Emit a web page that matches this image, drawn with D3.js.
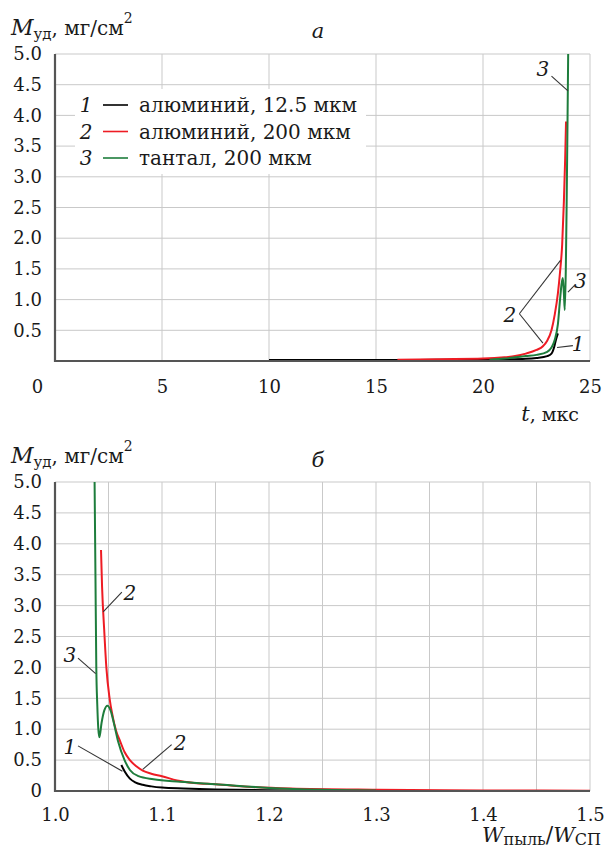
<!DOCTYPE html>
<html><head><meta charset="utf-8">
<script src="https://cdn.jsdelivr.net/npm/d3@7"></script>
<style>
body{margin:0;background:#fff;}
svg text{font-family:"DejaVu Serif";}
</style></head>
<body><svg id="c" width="604" height="848"></svg>
<script>
// ---------- data ----------
const seriesNames = ["алюминий, 12.5 мкм", "алюминий, 200 мкм", "тантал, 200 мкм"];
const seriesIds = ["1", "2", "3"];
const seriesColors = ["#000000", "#ee1c24", "#1e7d3c"];

// Panel a: M vs t (мкс)
const a1_t = [10, 12, 14, 16, 18, 20, 21, 22, 22.5, 23, 23.2, 23.32, 23.42, 23.5];
const a1_v = [0.015, 0.015, 0.015, 0.015, 0.02, 0.02, 0.025, 0.035, 0.05, 0.08, 0.12, 0.22, 0.36, 0.45];
const a2_t = [16, 18, 20, 21, 21.5, 22, 22.5, 22.8, 23.0, 23.2, 23.35, 23.5, 23.6, 23.7, 23.78, 23.84, 23.88];
const a2_v = [0.02, 0.03, 0.04, 0.06, 0.08, 0.12, 0.18, 0.24, 0.33, 0.5, 0.75, 1.1, 1.45, 1.9, 2.6, 3.3, 3.9];
const a3_t = [20.3, 21, 21.5, 22, 22.5, 23, 23.2, 23.35, 23.5, 23.6, 23.67, 23.73, 23.78, 23.82, 23.87, 23.91, 23.95, 23.98];
const a3_v = [0.02, 0.04, 0.06, 0.08, 0.1, 0.15, 0.22, 0.34, 0.6, 1.0, 1.25, 1.35, 1.1, 0.83, 1.5, 2.6, 3.9, 5.0];

// Panel b: M vs W_пыль/W_СП
const b1_w = [1.062, 1.065, 1.07, 1.075, 1.082, 1.09, 1.1, 1.12, 1.15, 1.2, 1.25, 1.3];
const b1_v = [0.42, 0.32, 0.2, 0.14, 0.1, 0.075, 0.055, 0.04, 0.025, 0.012, 0.006, 0.003];
const b2_w = [1.043, 1.044, 1.046, 1.048, 1.051, 1.054, 1.057, 1.061, 1.065, 1.07, 1.076, 1.082, 1.09, 1.1, 1.114, 1.13, 1.15, 1.18, 1.22, 1.3, 1.4, 1.5];
const b2_v = [3.9, 3.3, 2.6, 2.0, 1.5, 1.2, 0.98, 0.8, 0.63, 0.5, 0.4, 0.33, 0.28, 0.24, 0.17, 0.13, 0.11, 0.07, 0.04, 0.02, 0.01, 0.005];
const b3_w = [1.037, 1.0378, 1.0386, 1.0395, 1.0405, 1.0415, 1.0435, 1.046, 1.049, 1.052, 1.055, 1.059, 1.065, 1.07, 1.078, 1.092, 1.117, 1.15, 1.2, 1.25, 1.3];
const b3_v = [5.0, 3.5, 2.0, 1.4, 1.0, 0.87, 1.1, 1.3, 1.38, 1.3, 1.1, 0.8, 0.5, 0.34, 0.24, 0.19, 0.15, 0.11, 0.05, 0.02, 0.01];

const aXTicks = [0, 5, 10, 15, 20, 25];
const aYTicks = [0.5, 1.0, 1.5, 2.0, 2.5, 3.0, 3.5, 4.0, 4.5, 5.0];
const bXTicks = [1.0, 1.1, 1.2, 1.3, 1.4, 1.5];
const bXGrid = [1.05, 1.1, 1.15, 1.2, 1.25, 1.3, 1.35, 1.4, 1.45, 1.5];
const bYTicks = [0, 0.5, 1.0, 1.5, 2.0, 2.5, 3.0, 3.5, 4.0, 4.5, 5.0];

// annotations: [label, labelX, labelY, [[x1,y1],[x2,y2]...]] in data units
const aNotes = [
  ["3", 22.8, 4.76, [[23.2, 4.64], [23.97, 4.4]]],
  ["2", 21.25, 0.75, [[21.7, 0.77], [23.62, 1.64]], [[21.7, 0.77], [22.8, 0.29]]],
  ["3", 24.55, 1.3, [[24.3, 1.24], [23.97, 1.12]]],
  ["1", 24.45, 0.28, [[24.2, 0.25], [23.46, 0.22]]]
];
const bNotes = [
  ["2", 1.07, 3.2, [[1.0625, 3.22], [1.045, 2.9]]],
  ["3", 1.014, 2.2, [[1.0215, 2.15], [1.038, 1.9]]],
  ["1", 1.014, 0.72, [[1.0215, 0.73], [1.063, 0.32]]],
  ["2", 1.117, 0.78, [[1.109, 0.75], [1.082, 0.35]]]
];

// ---------- drawing ----------
const svg = d3.select("#c");
const FS = 18;
const TXT = "#1a1a1a";

function panel(opts) {
  const {x, y, xTicks, xGrid, yTicks, series, notes, idx} = opts;
  const g = svg.append("g");
  const [x0, x1] = x.range();
  const [y0, y1] = y.range();
  const clipId = "clip" + idx;
  g.append("clipPath").attr("id", clipId).append("rect")
    .attr("x", x0).attr("y", y1 - 1).attr("width", x1 - x0 + 2).attr("height", y0 - y1 + 2);

  // grid
  g.append("g").selectAll("line").data(xGrid).join("line")
    .attr("x1", d => x(d)).attr("x2", d => x(d)).attr("y1", y0).attr("y2", y1)
    .attr("stroke", "#c9c9c9").attr("stroke-width", 1);
  g.append("g").selectAll("line").data(yTicks.filter(d => d > 0)).join("line")
    .attr("y1", d => y(d)).attr("y2", d => y(d)).attr("x1", x0).attr("x2", x1)
    .attr("stroke", "#c9c9c9").attr("stroke-width", 1);

  // legend (panel a only)
  if (opts.legend) {
    const L = g.append("g");
    L.append("rect").attr("x", 75).attr("y", 89).attr("width", 291).attr("height", 85).attr("fill", "#fff");
    seriesNames.forEach((nm, i) => {
      const yy = 105 + i * 26.5;
      L.append("text").attr("x", 86).attr("y", yy).attr("dy", "0.35em").attr("text-anchor", "middle")
        .attr("font-style", "italic").attr("font-size", 20).attr("fill", TXT).text(seriesIds[i]);
      L.append("line").attr("x1", 103).attr("x2", 128).attr("y1", yy).attr("y2", yy)
        .attr("stroke", seriesColors[i]).attr("stroke-width", 1.6);
      L.append("text").attr("x", 139).attr("y", yy).attr("dy", "0.35em")
        .attr("font-size", 20).attr("fill", TXT).text(nm);
    });
  }

  // curves
  const line = d3.line().x(d => x(d[0])).y(d => y(d[1])).curve(d3.curveMonotoneX);
  const cg = g.append("g").attr("clip-path", `url(#${clipId})`);
  series.forEach((s, i) => {
    const pts = s[0].map((v, k) => [v, s[1][k]]);
    cg.append("path").attr("d", line(pts)).attr("fill", "none")
      .attr("stroke", seriesColors[i]).attr("stroke-width", 2).attr("stroke-linejoin", "round");
  });

  // axes lines
  g.append("line").attr("x1", x0).attr("x2", x0).attr("y1", y0 + 1).attr("y2", y1)
    .attr("stroke", "#555").attr("stroke-width", 2.2);
  g.append("line").attr("x1", x0 - 1).attr("x2", x1).attr("y1", y0).attr("y2", y0)
    .attr("stroke", "#555").attr("stroke-width", 2.2);

  // tick labels via d3 axes
  const ax = g.append("g").attr("transform", `translate(0,${y0})`)
    .call(d3.axisBottom(x).tickValues(xTicks).tickSize(0).tickPadding(opts.xPad).tickFormat(opts.xFmt));
  ax.attr("font-family", null).attr("font-size", FS);
  ax.select(".domain").remove();
  ax.selectAll("text").attr("fill", TXT);
  if (opts.shiftZero) ax.selectAll(".tick").filter(d => d === 0).select("text").attr("dx", -18);

  const ay = g.append("g").attr("transform", `translate(${x0},0)`)
    .call(d3.axisLeft(y).tickValues(yTicks).tickSize(0).tickPadding(13).tickFormat(d => d === 0 ? "0" : d3.format(".1f")(d)));
  ay.attr("font-family", null).attr("font-size", FS);
  ay.select(".domain").remove();
  ay.selectAll("text").attr("fill", TXT);

  // annotations
  notes.forEach(n => {
    g.append("text").attr("x", x(n[1])).attr("y", y(n[2])).attr("dy", "0.35em").attr("text-anchor", "middle")
      .attr("font-style", "italic").attr("font-size", 20).attr("fill", TXT).text(n[0]);
    n.slice(3).forEach(seg => {
      g.append("path").attr("d", d3.line()(seg.map(p => [x(p[0]), y(p[1])])))
        .attr("fill", "none").attr("stroke", "#333").attr("stroke-width", 1.1);
    });
  });
  return g;
}

function yTitle(yb) {
  const t = svg.append("text").attr("x", 11).attr("y", yb).attr("font-size", 20).attr("fill", TXT);
  t.append("tspan").attr("font-style", "italic").attr("font-size", 22).text("M");
  t.append("tspan").attr("font-size", 15).attr("dy", 4).text("уд");
  t.append("tspan").attr("dy", -4).text(", мг/см");
  t.append("tspan").attr("font-size", 14).attr("dy", -12).text("2");
}

// Panel a
const xA = d3.scaleLinear().domain([0, 25]).range([55, 590]);
const yA = d3.scaleLinear().domain([0, 5]).range([361, 54]);
panel({x: xA, y: yA, xTicks: aXTicks, xGrid: [5, 10, 15, 20, 25], yTicks: aYTicks,
  series: [[a1_t, a1_v], [a2_t, a2_v], [a3_t, a3_v]], notes: aNotes, idx: 0,
  legend: true, shiftZero: true, xFmt: d3.format("d"), xPad: 19});
yTitle(35);
svg.append("text").attr("x", 318).attr("y", 38).attr("text-anchor", "middle")
  .attr("font-style", "italic").attr("font-size", 21).attr("fill", TXT).text("а");
const tl = svg.append("text").attr("x", 579).attr("y", 421).attr("text-anchor", "end").attr("font-size", 19).attr("fill", TXT);
tl.append("tspan").attr("font-style", "italic").attr("font-size", 21).text("t");
tl.append("tspan").text(", мкс");

// Panel b
const xB = d3.scaleLinear().domain([1.0, 1.5]).range([55, 590]);
const yB = d3.scaleLinear().domain([0, 5]).range([791, 482]);
panel({x: xB, y: yB, xTicks: bXTicks, xGrid: bXGrid, yTicks: bYTicks,
  series: [[b1_w, b1_v], [b2_w, b2_v], [b3_w, b3_v]], notes: bNotes, idx: 1,
  legend: false, shiftZero: false, xFmt: d3.format(".1f"), xPad: 17});
yTitle(463);
svg.append("text").attr("x", 318).attr("y", 467).attr("text-anchor", "middle")
  .attr("font-style", "italic").attr("font-size", 21).attr("fill", TXT).text("б");
const wl = svg.append("text").attr("x", 601).attr("y", 842).attr("text-anchor", "end").attr("font-size", 20).attr("fill", TXT);
wl.append("tspan").attr("font-style", "italic").attr("font-size", 21).text("W");
wl.append("tspan").attr("font-size", 16).attr("dy", 3).text("пыль");
wl.append("tspan").attr("dy", -3).attr("font-size", 22).text("/");
wl.append("tspan").attr("font-style", "italic").attr("font-size", 21).text("W");
wl.append("tspan").attr("font-size", 16).attr("dy", 3).text("СП");
</script></body></html>
